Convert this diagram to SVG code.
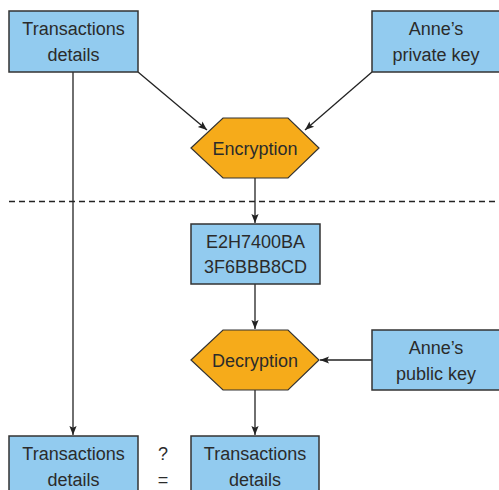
<svg xmlns="http://www.w3.org/2000/svg" width="499" height="490" viewBox="0 0 499 490">
<style>
.box{fill:#92cbef;stroke:#333;stroke-width:1.5}
.hex{fill:#f6ab1a;stroke:#333;stroke-width:1.2}
.t{font-family:"Liberation Sans",Arial,sans-serif;font-size:18px;fill:#2b2b2b;text-anchor:middle}
.c{stroke:#222;stroke-width:1.3;fill:none}
</style>
<defs>
<marker id="ah" viewBox="0 0 10 10" refX="10" refY="5" markerWidth="10" markerHeight="9" markerUnits="userSpaceOnUse" orient="auto">
<path d="M0,1 L10,5 L0,9 L2,5 Z" fill="#222"/>
</marker>
</defs>
<rect width="499" height="490" fill="#fff"/>
<g id="connectors">
<line class="c" x1="138" y1="72" x2="207" y2="130" marker-end="url(#ah)"/>
<line class="c" x1="372" y1="72" x2="305" y2="130" marker-end="url(#ah)"/>
<line class="c" x1="255" y1="178" x2="255" y2="223" marker-end="url(#ah)"/>
<line class="c" x1="255" y1="284" x2="255" y2="329" marker-end="url(#ah)"/>
<line class="c" x1="372" y1="360" x2="320" y2="360" marker-end="url(#ah)"/>
<line class="c" x1="255" y1="390" x2="255" y2="435" marker-end="url(#ah)"/>
<line class="c" x1="73" y1="72" x2="73" y2="435" marker-end="url(#ah)"/>
<line x1="9" y1="201.5" x2="499" y2="201.5" stroke="#222" stroke-width="1.3" stroke-dasharray="6,4"/>
</g>
<g id="tx1">
<rect class="box" x="9" y="11" width="129" height="61"/>
<text class="t" x="73.5" y="35">Transactions</text>
<text class="t" x="73.5" y="61">details</text>
</g>
<g id="privkey">
<rect class="box" x="372" y="11" width="135" height="61"/>
<text class="t" x="436" y="35">Anne’s</text>
<text class="t" x="436" y="61">private key</text>
</g>
<g id="encryption">
<polygon class="hex" points="191,148 223,118 288,118 319,148 288,178 223,178"/>
<text class="t" x="255" y="154.5">Encryption</text>
</g>
<g id="hash">
<rect class="box" x="191" y="224" width="129" height="60"/>
<text class="t" x="255.5" y="248">E2H7400BA</text>
<text class="t" x="255.5" y="273">3F6BBB8CD</text>
</g>
<g id="decryption">
<polygon class="hex" points="191,360 223,330 288,330 319,360 288,390 223,390"/>
<text class="t" x="255" y="366.5">Decryption</text>
</g>
<g id="pubkey">
<rect class="box" x="372" y="330" width="135" height="60"/>
<text class="t" x="436" y="354">Anne’s</text>
<text class="t" x="436" y="380">public key</text>
</g>
<g id="tx2">
<rect class="box" x="9" y="436" width="129" height="60"/>
<text class="t" x="73.5" y="460">Transactions</text>
<text class="t" x="73.5" y="486">details</text>
</g>
<g id="tx3">
<rect class="box" x="191" y="436" width="128" height="60"/>
<text class="t" x="255" y="460">Transactions</text>
<text class="t" x="255" y="486">details</text>
</g>
<g id="compare">
<text class="t" x="163" y="460">?</text>
<text class="t" x="163" y="486">=</text>
</g>
</svg>
